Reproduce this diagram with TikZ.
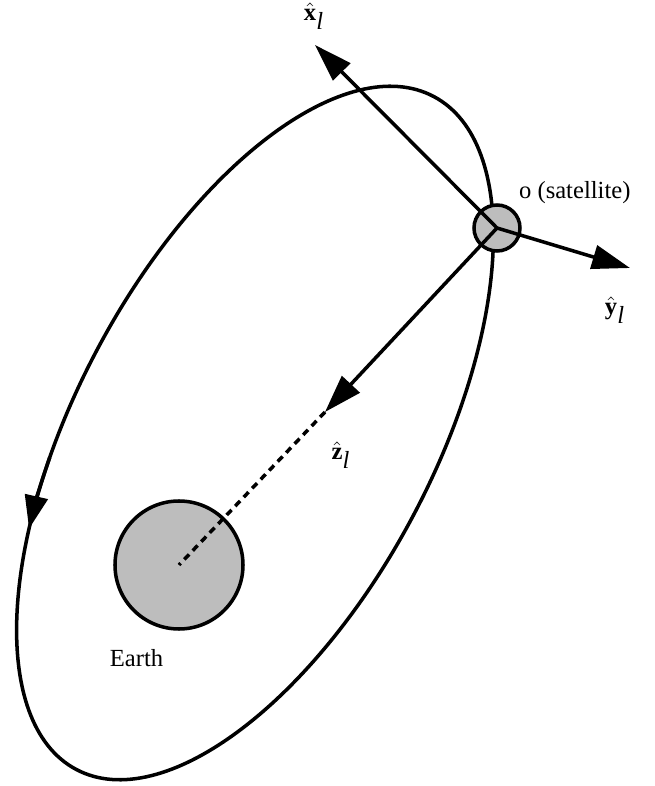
\documentclass[tikz,border=0pt]{standalone}
\usepackage{fontspec}
\setmainfont{Liberation Serif}
\usetikzlibrary{arrows.meta}
\definecolor{bodygray}{gray}{0.74}

\begin{document}
\begin{tikzpicture}[
        orbit/.style={draw, line width=2pt},
        axis/.style={draw, line width=2pt, -{Triangle[length=0.76cm, width=0.48cm]}},
        body/.style={circle, draw, line width=2pt, fill=bodygray, inner sep=0pt},
        txt/.style={font=\fontsize{14}{17}\selectfont, inner sep=1pt}]

        \useasboundingbox (0,0) rectangle (13.1,15.72);

        % orbit and its direction
        \begin{scope}[shift={(5.10,7.06)}, rotate=62]
            \draw [orbit] (0,0) ellipse [x radius=7.62cm, y radius=3.57cm];
            \draw [orbit, -{Triangle[length=0.66cm, width=0.46cm]}]
                (108:7.62cm and 3.57cm) arc [start angle=108, end angle=120, x radius=7.62cm, y radius=3.57cm];
        \end{scope}

        \node [body, minimum size=2.56cm] (earth) at (3.58,4.42) {};
        \coordinate (ztip) at (6.50,7.48);
        \draw [line width=2pt, dash pattern=on 4pt off 3pt] (ztip) -- (earth.center);

        \node [body, minimum size=0.92cm] (sat) at (9.94,11.16) {};
        \coordinate (xtip) at (6.30,14.82);
        \coordinate (ytip) at (12.60,10.36);

        \path [axis] (sat.center) -- (xtip);
        \path [axis] (sat.center) -- (ytip);
        \path [axis] (sat.center) -- (ztip);

        \node [txt] (xlab) at (6.28,15.40) {$\hat{\textbf{x}}_{\textit{l}}$};
        \node [txt] (ylab) at (12.30,9.52) {$\hat{\textbf{y}}_{\textit{l}}$};
        \node [txt] (zlab) at (6.82,6.62) {$\hat{\textbf{z}}_{\textit{l}}$};
        \node [txt, anchor=base west] (satlab) at (10.34,11.74) {o (satellite)};
        \node [txt, anchor=base] (earthlab) at (2.73,2.38) {Earth};
\end{tikzpicture}
\end{document}
